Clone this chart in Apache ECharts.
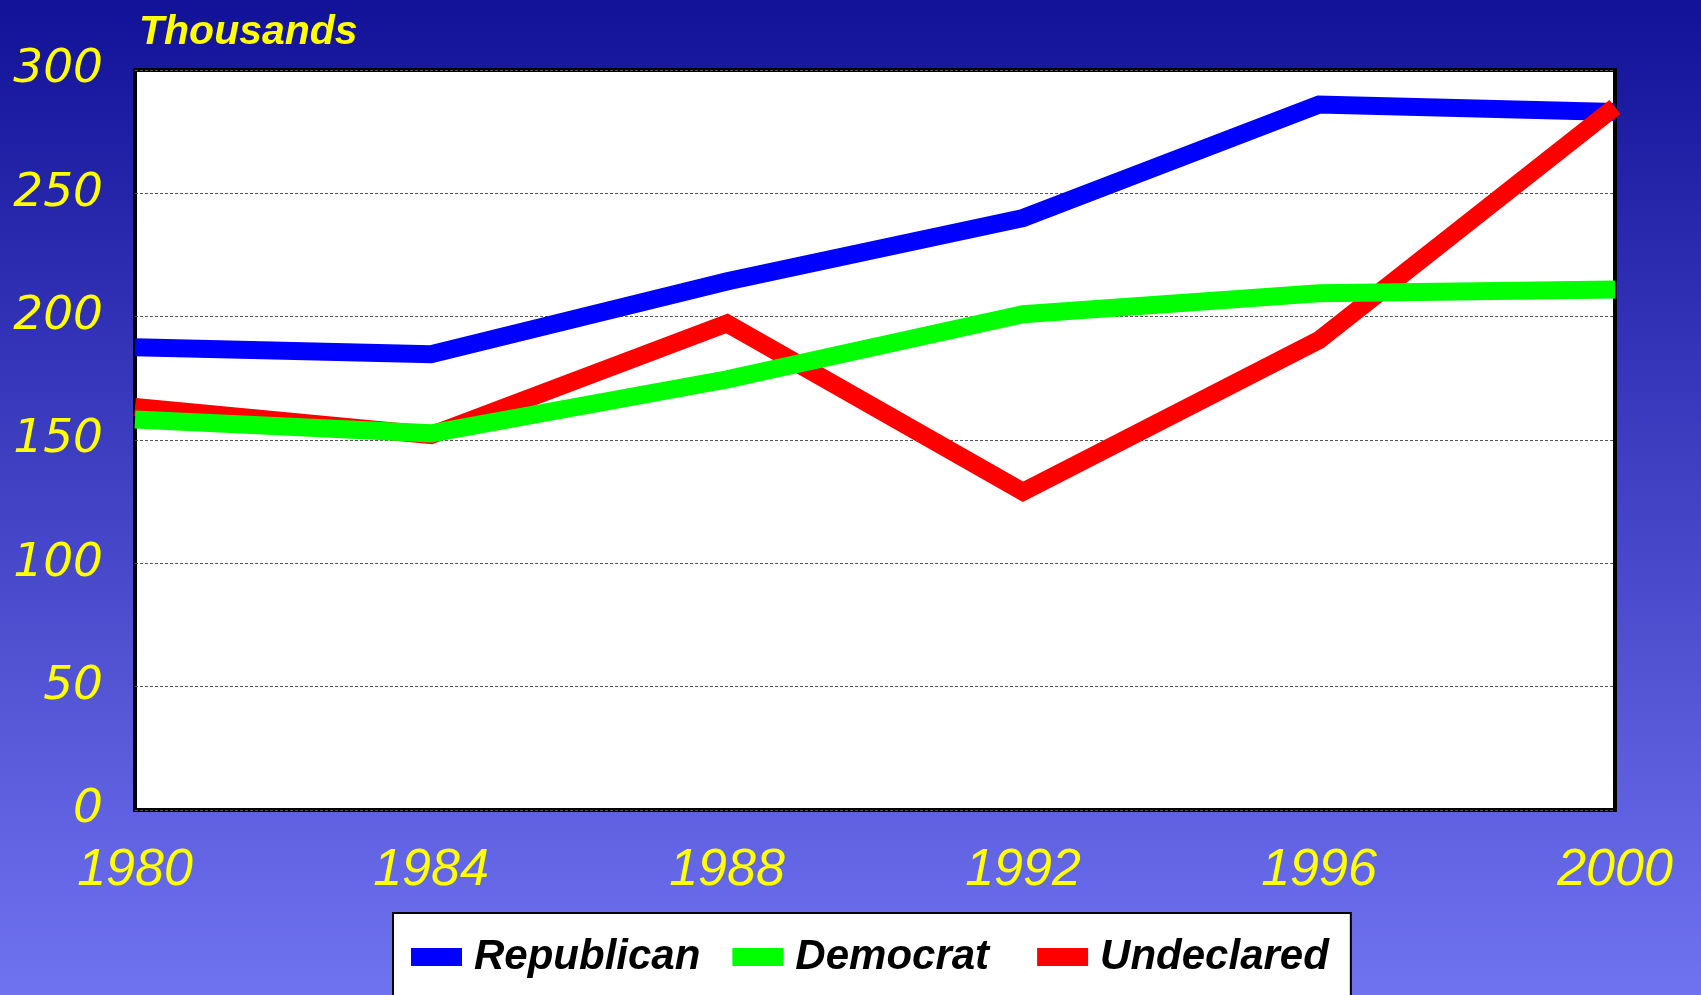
<!DOCTYPE html>
<html>
<head>
<meta charset="utf-8">
<script src="https://cdn.jsdelivr.net/npm/echarts@6/dist/echarts.min.js"></script>
<style>
html,body{margin:0;padding:0;width:1701px;height:995px;overflow:hidden;}
#c{width:1701px;height:995px;}
</style>
</head>
<body>
<div id="c"></div>
<script>
const years = ['1980','1984','1988','1992','1996','2000'];
const republican = [187.6, 184.8, 214.3, 240, 286, 283];
const democrat = [158.3, 152.7, 174.6, 201, 209.5, 211];
const undeclared = [163.4, 152, 197.3, 129, 190.5, 285];
const yTicks = [0, 50, 100, 150, 200, 250, 300];
const seriesNames = ['Republican', 'Democrat', 'Undeclared'];

const chart = echarts.init(document.getElementById('c'));
const sans = '"Liberation Sans", Arial, sans-serif';
chart.setOption({
  backgroundColor: {
    type: 'linear', x: 0, y: 0, x2: 0, y2: 1,
    colorStops: [{offset: 0, color: '#121298'}, {offset: 1, color: '#7073f0'}]
  },
  animation: false,
  title: {
    text: 'Thousands',
    left: 134, top: 7,
    textStyle: {color: '#ffff00', fontFamily: sans, fontWeight: 'bold', fontStyle: 'italic', fontSize: 41, lineHeight: 41}
  },
  grid: {
    left: 135, right: 86, top: 70, bottom: 185,
    show: true, backgroundColor: '#ffffff', borderColor: '#000000', borderWidth: 4
  },
  legend: {
    data: [
      {name: seriesNames[0]},
      {name: seriesNames[1], textStyle: {padding: [0, 16, 0, 7]}},
      {name: seriesNames[2], textStyle: {padding: [0, 8, 0, 7]}}
    ],
    left: 393, top: 913,
    backgroundColor: '#ffffff', borderColor: '#000000', borderWidth: 2,
    padding: [14, 14, 40, 18],
    icon: 'rect', itemWidth: 51, itemHeight: 18, itemGap: 32,
    textStyle: {color: '#000000', fontFamily: sans, fontWeight: 'bold', fontStyle: 'italic', fontSize: 42, lineHeight: 60, padding: [0, 0, 0, 7]}
  },
  xAxis: {
    type: 'category', data: years, boundaryGap: false,
    axisLine: {show: false}, axisTick: {show: false},
    splitLine: {show: false},
    axisLabel: {color: '#ffff00', fontFamily: sans, fontStyle: 'italic', fontSize: 52, lineHeight: 52, margin: 35, interval: 0, showMinLabel: true, showMaxLabel: true}
  },
  yAxis: {
    type: 'value', min: yTicks[0], max: yTicks[yTicks.length - 1], interval: 50,
    axisLine: {show: false}, axisTick: {show: false},
    splitLine: {show: true, lineStyle: {color: '#555555', width: 1, type: [3, 2]}},
    axisLabel: {color: '#ffff00', fontFamily: '"DejaVu Sans", sans-serif', fontStyle: 'italic', fontSize: 47, margin: 32}
  },
  series: [
    {name: seriesNames[0], type: 'line', data: republican, z: 2, showSymbol: false, symbol: 'none', color: '#0000ff', lineStyle: {width: 18, color: '#0000ff', join: 'miter'}},
    {name: seriesNames[1], type: 'line', data: democrat, z: 4, showSymbol: false, symbol: 'none', color: '#00ff00', lineStyle: {width: 18, color: '#00ff00', join: 'miter'}},
    {name: seriesNames[2], type: 'line', data: undeclared, z: 3, showSymbol: false, symbol: 'none', color: '#ff0000', lineStyle: {width: 18, color: '#ff0000', join: 'miter'}}
  ]
});
</script>
</body>
</html>
